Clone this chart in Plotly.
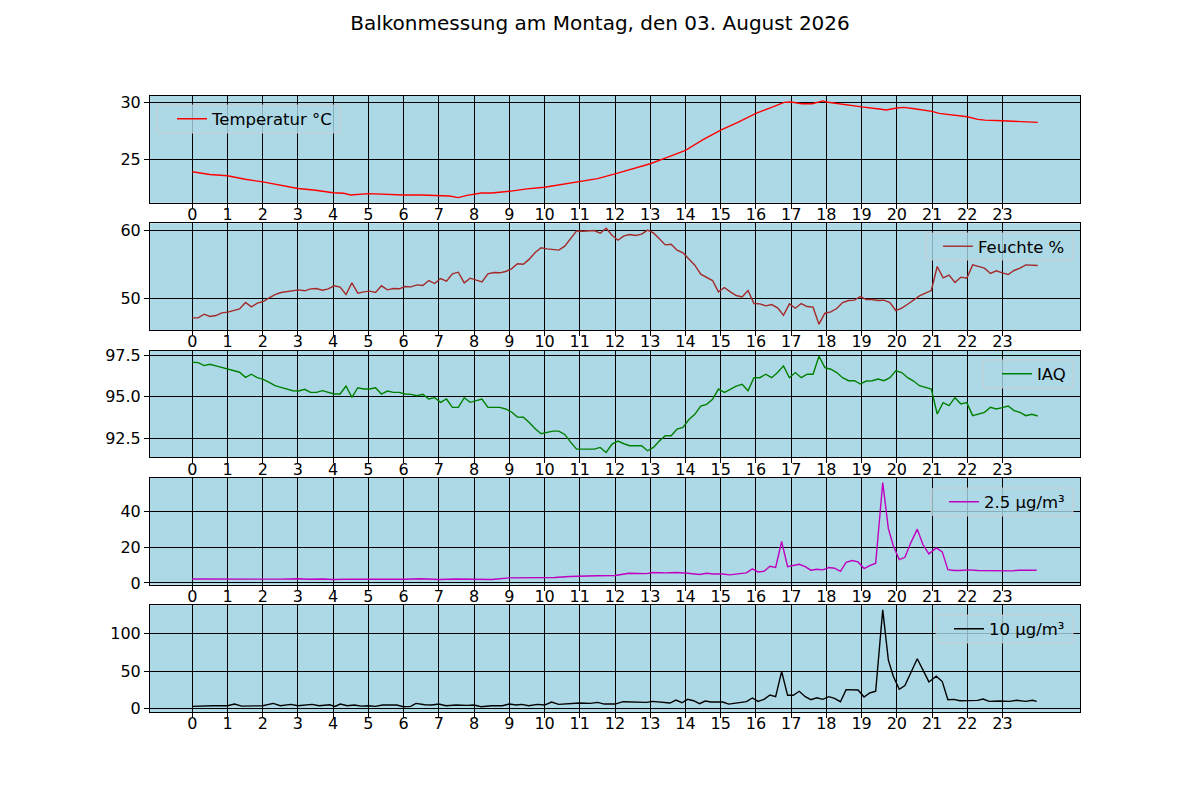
import numpy as np
import plotly.graph_objects as go


TITLE = 'Balkonmessung am Montag, den 03. August 2026'

# 10 minute readings, 144 per day, plotted from hour 0 to 24
HOURS = np.linspace(0, 24, 144)
HOUR_TICKS = list(range(24))

TEMP_H = [0, 0.5, 1, 1.5, 2, 2.5, 3, 3.5, 4, 4.3,
          4.5, 5, 5.5, 6, 6.5, 7, 7.3, 7.55, 7.8, 8.2,
          8.5, 9, 9.5, 10, 10.5, 11, 11.5, 12, 12.5, 13,
          13.5, 14, 14.5, 15, 15.5, 16, 16.5, 16.8, 17, 17.3,
          17.6, 17.9, 18, 18.5, 19, 19.5, 19.7, 20, 20.2, 20.5,
          21, 21.2, 21.5, 22, 22.3, 22.5, 23, 23.5, 24]
TEMP = [23.95, 23.71, 23.6, 23.3, 23.07, 22.8, 22.5, 22.34, 22.13, 22.08,
        21.93, 22.05, 21.96, 21.93, 21.93, 21.9, 21.84, 21.7, 21.9, 22.1,
        22.1, 22.25, 22.46, 22.6, 22.84, 23.07, 23.36, 23.77, 24.18, 24.65,
        25.23, 25.82, 26.75, 27.57, 28.27, 29.04, 29.62, 30.0, 30.03, 29.88,
        29.88, 30.12, 30.03, 29.8, 29.6, 29.42, 29.33, 29.5, 29.56, 29.44,
        29.21, 29.04, 28.92, 28.74, 28.51, 28.45, 28.39, 28.3, 28.25]

HUMIDITY = [47.23, 47.23, 47.77, 47.43, 47.57, 47.96, 48.06, 48.3, 48.54, 49.47,
            48.83, 49.37, 49.61, 50.15, 50.63, 50.92, 51.07, 51.21, 51.31, 51.17,
            51.46, 51.5, 51.26, 51.46, 51.9, 51.7, 50.63, 52.33, 50.83, 51.02,
            51.12, 50.92, 51.9, 51.31, 51.5, 51.46, 51.8, 51.75, 52.04, 51.94,
            52.67, 52.23, 52.96, 52.57, 53.64, 53.88, 52.33, 53.01, 52.77, 52.48,
            53.64, 53.83, 53.79, 53.98, 54.37, 55.1, 55.05, 55.78, 56.75, 57.43,
            57.28, 57.18, 57.09, 57.67, 58.79, 59.9, 59.85, 59.85, 59.95, 59.56,
            60.29, 59.27,
            58.54, 59.17, 59.37, 59.22, 59.42, 60.0, 59.6, 58.74, 57.86, 57.96,
            57.09, 56.7, 55.78, 54.9, 53.59, 53.16, 52.67, 51.02, 51.65, 51.02,
            50.49, 50.29, 51.21, 49.32, 49.27, 48.98, 49.17, 48.69, 47.62, 49.27,
            48.64, 49.32, 48.88, 48.79, 46.31, 47.91, 48.11, 48.59, 49.47, 49.76,
            49.81, 50.34, 49.9, 49.9, 49.76, 49.81, 49.47, 48.3, 48.64, 49.22,
            49.81, 50.44, 50.83, 51.21, 54.71, 53.06, 53.45, 52.38, 53.16, 53.01,
            54.95, 54.76, 54.47, 53.69, 54.08, 53.79, 53.54, 54.13, 54.47, 54.95,
            54.85, 54.85]

IAQ = [97.07, 97.05, 96.87, 96.95, 96.85, 96.75, 96.65, 96.57, 96.47, 96.16,
       96.35, 96.14, 96.04, 95.86, 95.66, 95.56, 95.46, 95.36, 95.34, 95.44,
       95.26, 95.26, 95.36, 95.26, 95.16, 95.16, 95.64, 94.96, 95.54, 95.46,
       95.46, 95.54, 95.16, 95.34, 95.26, 95.26, 95.16, 95.14, 95.06, 95.14,
       94.86, 94.94, 94.66, 94.86, 94.36, 94.36, 94.94, 94.66, 94.74, 94.86,
       94.36, 94.36, 94.36, 94.26, 94.08, 93.78, 93.76, 93.45, 93.07, 92.77,
       92.83, 92.93, 92.93, 92.73, 92.27, 91.85, 91.85, 91.85, 91.85, 91.95,
       91.65, 92.15,
       92.33, 92.17, 92.05, 92.05, 92.05, 91.75, 91.95, 92.33, 92.65, 92.65,
       93.05, 93.15, 93.63, 93.94, 94.44, 94.54, 94.84, 95.46, 95.26, 95.44,
       95.64, 95.74, 95.36, 96.14, 96.14, 96.35, 96.14, 96.45, 96.85, 96.14,
       96.45, 96.14, 96.35, 96.35, 97.43, 96.75, 96.65, 96.45, 96.14, 95.96,
       95.96, 95.76, 95.94, 95.96, 96.06, 95.96, 96.14, 96.55, 96.45, 96.14,
       95.94, 95.66, 95.54, 95.46, 93.96, 94.64, 94.46, 94.94, 94.56, 94.64,
       93.86, 93.94, 94.06, 94.36, 94.26, 94.34, 94.44, 94.16, 94.06, 93.86,
       93.94, 93.84]

PM25_H = [0, 0.5, 1.0, 1.5, 2.0, 2.5, 3.0, 3.3, 3.7, 4.0,
          4.5, 5.0, 5.5, 6.0, 6.5, 7.0, 7.5, 8.0, 8.5, 9.0,
          9.5, 10.0, 10.3, 10.7, 11.0, 11.5, 12.0, 12.4, 12.9, 13.06,
          13.45, 13.74, 14.06, 14.4, 14.6, 14.8, 15.06, 15.25, 15.73, 15.9,
          16.06, 16.23, 16.4, 16.56, 16.73, 16.9, 17.06, 17.23, 17.4, 17.56,
          17.73, 17.9, 18.07, 18.23, 18.4, 18.56, 18.73, 18.9, 19.07, 19.23,
          19.4, 19.6, 19.76, 19.9, 20.07, 20.23, 20.4, 20.58, 20.74, 20.91,
          21.12, 21.29, 21.45, 21.62, 21.79, 22.05, 22.3, 22.7, 23.0, 23.28,
          23.46, 23.66, 23.8, 23.97]
PM25 = [2.2, 2.1, 2.3, 2.0, 2.2, 2.1, 2.3, 2.0, 2.2, 1.9,
        2.1, 2.0, 2.2, 2.0, 2.3, 1.9, 2.2, 2.0, 1.9, 2.8,
        2.8, 3.2, 3.0, 3.6, 3.9, 4.0, 4.1, 5.4, 5.2, 5.8,
        5.6, 5.8, 5.4, 4.7, 5.4, 5.0, 5.0, 4.5, 5.6, 7.8,
        6.1, 6.5, 9.3, 8.7, 23.1, 9.1, 9.7, 10.4, 9.1, 7.1,
        7.6, 7.3, 8.6, 8.2, 6.5, 11.5, 12.5, 11.7, 8.0, 9.7,
        11.0, 56.0, 30.3, 20.7, 13.0, 14.3, 22.5, 30.0, 21.4, 16.2,
        19.5, 17.3, 7.4, 6.9, 6.9, 7.3, 6.9, 6.7, 6.9, 6.7,
        7.1, 7.1, 7.4, 7.1]

PM10_H = [0, 0.3, 0.6, 1.0, 1.2, 1.4, 1.8, 2.0, 2.3, 2.5,
          2.8, 3.0, 3.4, 3.6, 3.9, 4.05, 4.2, 4.4, 4.6, 4.8,
          5.0, 5.2, 5.4, 5.8, 6.0, 6.2, 6.35, 6.6, 6.8, 7.0,
          7.2, 7.5, 7.8, 8.0, 8.2, 8.5, 8.8, 9.0, 9.2, 9.35,
          9.55, 9.8, 10.0, 10.2, 10.4, 10.7, 11.0, 11.3, 11.5, 11.7,
          11.9, 12.0, 12.23, 12.56, 12.9, 13.06, 13.4, 13.56, 13.73, 13.9,
          14.06, 14.23, 14.4, 14.56, 14.73, 15.06, 15.23, 15.4, 15.56, 15.73,
          15.9, 16.06, 16.23, 16.4, 16.56, 16.73, 16.9, 17.06, 17.23, 17.4,
          17.56, 17.73, 17.9, 18.07, 18.23, 18.4, 18.56, 18.73, 18.9, 19.07,
          19.23, 19.4, 19.6, 19.76, 19.9, 20.07, 20.23, 20.4, 20.58, 20.74,
          20.91, 21.12, 21.29, 21.45, 21.62, 21.79, 22.05, 22.29, 22.45, 22.62,
          22.9, 23.2, 23.4, 23.66, 23.85, 23.97]
PM10 = [2.7, 3.6, 3.6, 3.6, 5.8, 3.1, 3.1, 3.6, 6.7, 3.6,
        5.4, 3.6, 5.4, 3.6, 4.9, 2.7, 5.8, 3.6, 4.5, 3.1,
        3.6, 2.7, 4.5, 4.5, 2.2, 2.7, 6.7, 4.9, 4.5, 5.8,
        3.6, 4.5, 4.0, 4.5, 2.2, 3.6, 3.6, 5.8, 4.5, 5.4,
        3.6, 5.4, 4.5, 8.5, 5.4, 6.7, 7.2, 6.7, 8.1, 5.8,
        5.4, 5.8, 9.0, 8.1, 8.1, 9.4, 7.6, 7.2, 11.2, 7.6,
        12.1, 10.3, 6.3, 9.9, 8.5, 8.5, 5.8, 6.7, 8.5, 9.0,
        13.9, 9.4, 12.1, 17.9, 15.7, 49.3, 17.5, 17.5, 22.9, 15.7,
        11.7, 14.3, 12.1, 15.7, 13.5, 9.0, 25.1, 24.7, 24.7, 15.2,
        20.6, 22.9, 131.8, 64.6, 43.0, 25.6, 30.5, 48.0, 66.4, 51.6,
        35.4, 43.0, 35.9, 11.7, 12.1, 10.3, 10.8, 10.8, 12.6, 9.4,
        9.9, 9.4, 10.8, 9.4, 10.8, 9.4]

# (x, y, legend label, colour, y range, y ticks, tick format)
panels = [
    (TEMP_H, TEMP, 'Temperatur °C', 'red', [21.25, 30.55], [25, 30], 'd'),
    (HOURS, HUMIDITY, 'Feuchte %', 'brown', [45.45, 61.0], [50, 60], 'd'),
    (HOURS, IAQ, 'IAQ', 'green', [91.35, 97.77], [92.5, 95.0, 97.5], '.1f'),
    (PM25_H, PM25, '2.5 µg/m³', '#bf00bf', [-1.0, 58.6], [0, 20, 40], 'd'),
    (PM10_H, PM10, '10 µg/m³', 'black', [-4.8, 138.0], [0, 50, 100], 'd'),
]

# legend frames in page pixels: left, right, top, bottom, text start
legend_boxes = [
    (157, 340, 105, 133, 212),
    (926, 1073, 233, 260, 978),
    (983, 1073, 360, 388, 1037),
    (931, 1073, 488, 516, 984),
    (936, 1073, 615, 643, 989),
]

FONT = 'DejaVu Sans'
# the page puts the figure 8px in from the top left corner
OFFSET = 8
W, H = 1192, 792
LEFT, RIGHT, TOP, BOTTOM = 142, 120, 88, 88
AREA_W = W - LEFT - RIGHT
AREA_H = H - TOP - BOTTOM
PANEL_H = 106.8 / AREA_H
STEP = 127.3 / AREA_H


def px(sx):
    return (sx - OFFSET - LEFT) / AREA_W


def py(sy):
    return 1 - (sy - OFFSET - TOP) / AREA_H


def frame_path(x0, x1, y0, y1, r=3):
    rx, ry = r / AREA_W, r / AREA_H
    a, b, c, d = px(x0), px(x1), py(y0), py(y1)
    return (f'M{a + rx},{c} L{b - rx},{c} Q{b},{c} {b},{c - ry} '
            f'L{b},{d + ry} Q{b},{d} {b - rx},{d} '
            f'L{a + rx},{d} Q{a},{d} {a},{d + ry} '
            f'L{a},{c - ry} Q{a},{c} {a + rx},{c} Z')


fig = go.Figure()
layout = {}
shapes = []

for i, (x, y, name, color, yrange, yticks, fmt) in enumerate(panels):
    n = '' if i == 0 else str(i + 1)
    top = 1 - i * STEP
    bottom = top - PANEL_H
    fig.add_trace(go.Scatter(
        x=x, y=y, mode='lines', name=name,
        line=dict(color=color, width=1.4),
        xaxis='x' + n, yaxis='y' + n,
        legend='legend' + n,
    ))
    axis_style = dict(
        showline=True, mirror=True, linecolor='black', linewidth=1,
        showgrid=True, gridcolor='black', gridwidth=1, zeroline=False,
        ticks='outside', ticklen=5, tickcolor='black', tickwidth=1,
        tickfont=dict(family=FONT, size=16, color='black'),
    )
    layout['xaxis' + n] = dict(
        axis_style, domain=[0, 1], anchor='y' + n,
        range=[-1.2, 25.2], tickvals=HOUR_TICKS,
        ticktext=[str(h) for h in HOUR_TICKS],
        ticklabelstandoff=-8,
    )
    layout['yaxis' + n] = dict(
        axis_style, domain=[max(bottom, 0), top], anchor='x' + n,
        range=yrange, tickvals=yticks, tickformat=fmt,
    )

    x0, x1, y0, y1, text_x = legend_boxes[i]
    shapes.append(dict(
        type='path', xref='paper', yref='paper', layer='above',
        path=frame_path(x0, x1, y0, y1),
        fillcolor='rgba(173,216,230,0.8)',
        line=dict(color='rgba(204,204,204,0.8)', width=1),
    ))
    layout['legend' + n] = dict(
        x=px(text_x - 40), xanchor='left',
        y=py((y0 + y1) / 2), yanchor='middle',
        bgcolor='rgba(0,0,0,0)', borderwidth=0,
        font=dict(family=FONT, size=16.5, color='black'),
    )

fig.update_layout(
    width=W, height=H,
    margin=dict(l=LEFT, r=RIGHT, t=TOP, b=BOTTOM),
    paper_bgcolor='white', plot_bgcolor='#add8e6',
    showlegend=True,
    shapes=shapes,
    title=dict(text=TITLE, x=(600 - OFFSET) / W, xref='container', xanchor='center',
               y=1 - 15 / H, yanchor='middle',
               font=dict(family=FONT, size=20, color='black')),
    font=dict(family=FONT, color='black'),
    **layout,
)

fig.write_html('out.html')
